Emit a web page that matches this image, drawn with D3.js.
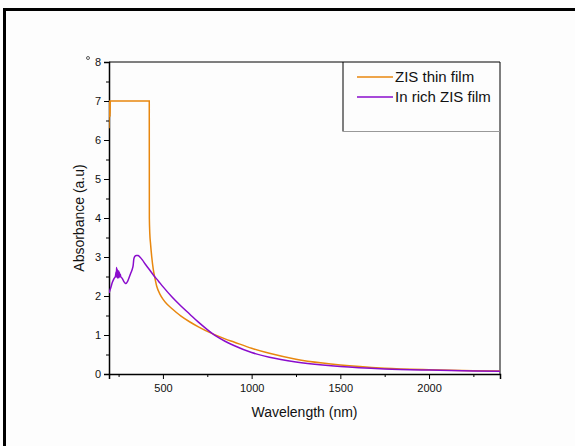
<!DOCTYPE html>
<html lang="en">
<head>
  <meta charset="UTF-8" />
  <title>Absorbance spectra</title>
  <script src="https://d3js.org/d3.v7.min.js"></script>
  <style>
    body { margin: 0; background: #fdfdfd; font-family: "Liberation Sans", Arial, sans-serif; }
    svg text { fill: #111; }
  </style>
</head>
<body>
  <svg id="chart" width="575" height="446"></svg>

  <script>
    // wavelength (nm) / absorbance (a.u)
    const zisWave = [196, 197, 198, 199, 200, 202, 203, 423, 423.5, 426, 430, 437, 445, 455, 465, 483, 500, 521, 550, 600, 650, 700, 775, 850, 900, 1000, 1100, 1250, 1400, 1500, 1750, 2000, 2250, 2400];
    const zisAbs  = [6.3, 6.95, 7.0, 6.6, 7.0, 6.6, 7.0, 7.0, 4.0, 3.6, 3.35, 3.0, 2.7, 2.45, 2.25, 2.05, 1.92, 1.8, 1.68, 1.49, 1.34, 1.21, 1.04, 0.9, 0.82, 0.66, 0.53, 0.38, 0.28, 0.23, 0.15, 0.11, 0.085, 0.075];

    const inWave = [196, 205, 215, 225, 232, 236, 238, 239, 240, 241, 242, 243, 244, 245, 246, 247, 248, 249, 250, 251, 252, 253, 254, 255, 256, 257, 258, 260, 262, 265, 272, 280, 287, 292, 300, 310, 320, 328, 332, 336, 342, 350, 360, 370, 385, 400, 420, 446, 475, 500, 550, 600, 650, 700, 750, 800, 850, 900, 1000, 1100, 1250, 1400, 1500, 1750, 2000, 2250, 2400];
    const inAbs  = [2.08, 2.2, 2.35, 2.45, 2.5, 2.62, 2.55, 2.73, 2.48, 2.7, 2.5, 2.68, 2.46, 2.66, 2.48, 2.64, 2.47, 2.62, 2.5, 2.64, 2.47, 2.6, 2.48, 2.6, 2.5, 2.57, 2.5, 2.56, 2.49, 2.48, 2.44, 2.37, 2.33, 2.32, 2.37, 2.48, 2.6, 2.7, 2.78, 2.95, 3.02, 3.04, 3.04, 3.0, 2.92, 2.82, 2.7, 2.54, 2.38, 2.24, 1.98, 1.75, 1.54, 1.33, 1.14, 0.97, 0.84, 0.73, 0.55, 0.43, 0.31, 0.23, 0.19, 0.13, 0.1, 0.08, 0.07];

    const seriesNames = ["ZIS thin film", "In rich ZIS film"];
    const seriesColors = ["#e8870e", "#8a0ccc"];
    const xMajor = [500, 1000, 1500, 2000];
    const yMajor = [0, 1, 2, 3, 4, 5, 6, 7, 8];

    const svg = d3.select("#chart");
    const mLeft = 109, mRight = 500, mTop = 62, mBottom = 374;

    const x = d3.scaleLinear().domain([196, 2400]).range([mLeft, mRight]);
    const y = d3.scaleLinear().domain([0, 8]).range([mBottom, mTop]);

    // outer frame (top and left only)
    svg.append("path")
      .attr("d", "M4.5,446 V9.5 H575")
      .attr("fill", "none")
      .attr("stroke", "#000")
      .attr("stroke-width", 3);

    svg.append("circle")
      .attr("cx", 88).attr("cy", 58).attr("r", 1.5)
      .attr("fill", "none").attr("stroke", "#333").attr("stroke-width", 0.8);

    // top / right frame of the plot
    svg.append("path")
      .attr("d", `M${mLeft},${mTop} H${mRight} V${mBottom}`)
      .attr("fill", "none").attr("stroke", "#000").attr("stroke-width", 1);

    // minor ticks
    const xMinor = d3.range(250, 2400, 500);
    const yMinor = d3.range(0.5, 8, 1);

    svg.append("g")
      .attr("transform", `translate(0,${mBottom})`)
      .call(d3.axisBottom(x).tickValues(xMajor).tickSize(5).tickPadding(5).tickFormat(d3.format("d")));
    svg.append("g")
      .attr("transform", `translate(0,${mBottom})`)
      .call(d3.axisBottom(x).tickValues(xMinor).tickSize(3).tickFormat(""))
      .call(g => g.select(".domain").remove());

    svg.append("g")
      .attr("transform", `translate(${mLeft},0)`)
      .call(d3.axisLeft(y).tickValues(yMajor).tickSize(5).tickPadding(3));
    svg.append("g")
      .attr("transform", `translate(${mLeft},0)`)
      .call(d3.axisLeft(y).tickValues(yMinor).tickSize(3).tickFormat(""))
      .call(g => g.select(".domain").remove());

    svg.selectAll(".tick text")
      .attr("font-size", "11px")
      .attr("font-family", "'Liberation Sans', Arial, sans-serif")
      .attr("fill", "#111");
    svg.selectAll(".domain").attr("stroke-width", 1.5);

    // lines
    const line = d3.line()
      .x(d => x(d[0]))
      .y(d => y(d[1]))
      .curve(d3.curveMonotoneX);

    const series = [
      d3.zip(zisWave, zisAbs),
      d3.zip(inWave, inAbs)
    ];

    svg.append("defs").append("clipPath").attr("id", "clip")
      .append("rect")
      .attr("x", mLeft).attr("y", mTop)
      .attr("width", mRight - mLeft).attr("height", mBottom - mTop);

    svg.append("g").attr("clip-path", "url(#clip)")
      .selectAll("path")
      .data(series)
      .join("path")
      .attr("d", line)
      .attr("fill", "none")
      .attr("stroke", (d, i) => seriesColors[i])
      .attr("stroke-width", 1.5);

    // legend box
    svg.append("path")
      .attr("d", `M343,${mTop} V131.5`)
      .attr("stroke", "#000").attr("stroke-width", 1);
    svg.append("path")
      .attr("d", `M343,131.5 H${mRight}`)
      .attr("stroke", "#999").attr("stroke-width", 1);

    const legend = svg.selectAll(".legend")
      .data(seriesNames)
      .join("g")
      .attr("class", "legend")
      .attr("transform", (d, i) => `translate(357,${77 + i * 20})`);

    legend.append("line")
      .attr("x1", 0).attr("x2", 36)
      .attr("stroke", (d, i) => seriesColors[i])
      .attr("stroke-width", 1.5);

    legend.append("text")
      .attr("x", 38)
      .attr("dy", "0.35em")
      .attr("font-size", "15px")
      .text(d => d);

    // axis titles
    svg.append("text")
      .attr("x", (mLeft + mRight) / 2)
      .attr("y", 417)
      .attr("text-anchor", "middle")
      .attr("font-size", "14px")
      .text("Wavelength (nm)");

    svg.append("text")
      .attr("transform", `translate(84,${(mTop + mBottom) / 2}) rotate(-90)`)
      .attr("text-anchor", "middle")
      .attr("font-size", "14px")
      .text("Absorbance (a.u)");
  </script>
</body>
</html>
